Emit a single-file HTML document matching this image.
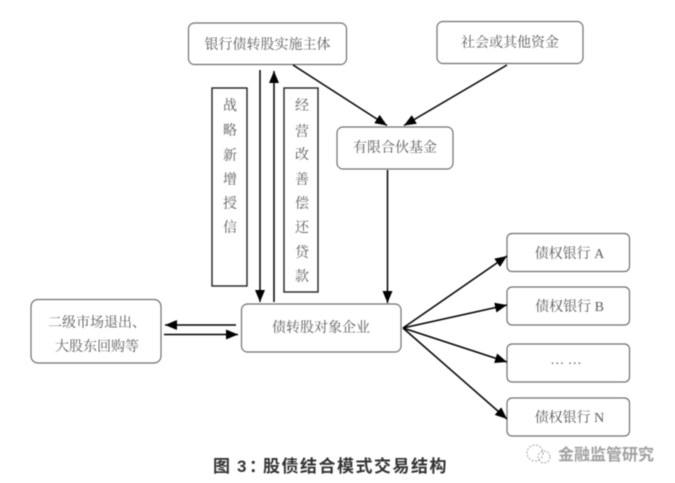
<!DOCTYPE html>
<html lang="zh">
<head>
<meta charset="utf-8">
<style>
html,body{margin:0;padding:0;background:#fff;width:675px;height:483px;overflow:hidden}
svg{display:block;filter:blur(.4px)}
text{font-family:"Liberation Serif","Noto Serif CJK SC",serif;fill:#5c5c5c;font-size:14px;text-anchor:middle}
.b{fill:#fff;stroke:#707070;stroke-width:1.200}
.r{fill:#fff;stroke:#222;stroke-width:1.400}
.l{stroke:#000;stroke-width:1.500;fill:none}
</style>
</head>
<body>
<svg width="675" height="483" viewBox="0 0 675 483" xmlns="http://www.w3.org/2000/svg">
<defs>
<marker id="a" markerUnits="userSpaceOnUse" markerWidth="13" markerHeight="10" refX="12" refY="5" orient="auto"><path d="M0 0L12 5L0 10z" fill="#000"/></marker>
</defs>

<rect class="b" x="188.500" y="23" width="158" height="41.500" rx="6"/>
<text x="267.500" y="49">银行债转股实施主体</text>

<rect class="b" x="437" y="21.500" width="146" height="42" rx="6"/>
<text x="510" y="47">社会或其他资金</text>

<rect class="b" x="337" y="127" width="116" height="42" rx="6"/>
<text x="395" y="152">有限合伙基金</text>

<rect class="r" x="212" y="88" width="35" height="198"/>
<text x="230" y="110">战</text>
<text x="230" y="135">略</text>
<text x="230" y="160">新</text>
<text x="230" y="184">增</text>
<text x="230" y="208">授</text>
<text x="230" y="232">信</text>

<rect class="r" x="284" y="88" width="34" height="204"/>
<text x="302" y="110">经</text>
<text x="302" y="136">营</text>
<text x="302" y="159">改</text>
<text x="302" y="184">善</text>
<text x="302" y="208">偿</text>
<text x="302" y="232">还</text>
<text x="302" y="257">贷</text>
<text x="302" y="281">款</text>

<rect class="b" x="241.500" y="304" width="159.500" height="48" rx="6"/>
<text x="321" y="332">债转股对象企业</text>

<rect class="b" x="31" y="299.500" width="130" height="63.500" rx="7"/>
<text x="97" y="327">二级市场退出、</text>
<text x="97" y="351">大股东回购等</text>

<rect class="b" x="507" y="233.500" width="122.500" height="38" rx="5"/>
<text x="569.500" y="258">债权银行 A</text>
<rect class="b" x="507" y="287" width="122.500" height="38" rx="5"/>
<text x="569.500" y="311">债权银行 B</text>
<rect class="b" x="507" y="344" width="122.500" height="38" rx="5"/>
<text x="566" y="364">… …</text>
<rect class="b" x="507" y="398" width="122.500" height="38" rx="5"/>
<text x="569.500" y="422">债权银行 N</text>

<line class="l" x1="260" y1="70" x2="260" y2="302" marker-end="url(#a)"/>
<line class="l" x1="274" y1="302" x2="274" y2="71" marker-end="url(#a)"/>
<line class="l" x1="293" y1="65" x2="387" y2="125.500" marker-end="url(#a)"/>
<line class="l" x1="507" y1="65" x2="404" y2="125.500" marker-end="url(#a)"/>
<line class="l" x1="387.500" y1="170" x2="387.500" y2="303" marker-end="url(#a)"/>
<line class="l" x1="236" y1="325" x2="165" y2="325" marker-end="url(#a)"/>
<line class="l" x1="164" y1="334.500" x2="238" y2="334.500" marker-end="url(#a)"/>
<line class="l" x1="403" y1="328" x2="507" y2="256" marker-end="url(#a)"/>
<line class="l" x1="403" y1="328" x2="507" y2="305" marker-end="url(#a)"/>
<line class="l" x1="403" y1="328" x2="507" y2="362" marker-end="url(#a)"/>
<line class="l" x1="403" y1="328" x2="507" y2="419" marker-end="url(#a)"/>

<text y="472" style="font-size:17px;font-weight:700;font-family:'Liberation Sans','Noto Sans CJK SC',sans-serif;fill:#333;text-anchor:start"><tspan x="213">图</tspan><tspan x="237">3</tspan><tspan x="249">：</tspan><tspan x="263" letter-spacing="1.500">股债结合模式交易结构</tspan></text>

<g fill="none" stroke="#aaa" stroke-width="1.100" stroke-dasharray="2 1.500">
<circle cx="535" cy="453" r="8"/>
<circle cx="544" cy="457" r="6"/>
</g>
<text x="606" y="460" style="font-size:16px;font-weight:700;font-family:'Liberation Sans','Noto Sans CJK SC',sans-serif;fill:#a0a0a0">金融监管研究</text>
</svg>
</body>
</html>
